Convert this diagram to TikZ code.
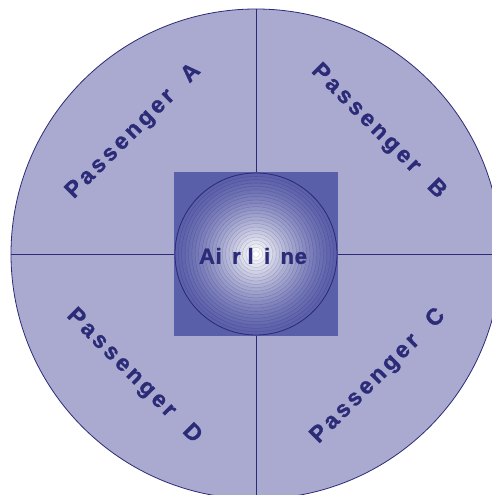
\documentclass[tikz,border=0pt]{standalone}
\usepackage{fontspec}
\setmainfont{Liberation Sans}
\usepackage{tikz}

\definecolor{cabinfill}{HTML}{AAA9D0}
\definecolor{hubfill}{HTML}{5A5FAA}
\definecolor{hubedge}{HTML}{5C60AC}
\definecolor{navyline}{HTML}{2B2B78}

\begin{document}
\begin{tikzpicture}[
  x=1pt, y=1pt,
  every node/.style={align=center},
  seatlabel/.style={font=\bfseries\fontsize{23}{27}\selectfont\addfontfeature{LetterSpace=15,FakeBold=1.2},
    text=navyline, inner sep=0pt},
  hublabel/.style={font=\bfseries\fontsize{22}{26}\selectfont\addfontfeature{LetterSpace=3,FakeBold=1.2},
    text=navyline, inner sep=0pt},
  divider/.style={draw=navyline, line width=0.8pt},
]
\useasboundingbox (-256,-241) rectangle (235,254);
\def\R{245}
\def\hubr{81}
% seating ring and quarters
\node[circle, minimum size=2*\R, inner sep=0pt, fill=cabinfill, divider] (cabin) at (0,0) {};
\draw[divider] (cabin.north) -- (cabin.south);
\draw[divider] (cabin.west) -- (cabin.east);
% hub
\node[rectangle, minimum size=163, inner sep=0pt, fill=hubfill] (hub) at (0,0) {};
\foreach \i in {0,...,23} {
  \pgfmathsetmacro\rr{\hubr*(1-\i/24)}
  \pgfmathsetmacro\pw{100*(\i/23)^1.4}
  \fill[white!\pw!hubedge, draw=black, draw opacity=0.2, line width=0.3pt] (hub.center) circle (\rr);
}
\draw[divider] (hub.center) circle (\hubr);
\node[hublabel] (airline) at (-3,-2) {Ai\ \,r\ l\ \,i\ \,ne};
% passengers
\foreach \n/\ang/\rot in {A/135/45, B/45/-45, C/-45/45, D/-135/-45} {
  \node[seatlabel, rotate=\rot] (seat\n) at (\ang:173) {Passenger\ \ \n};
}
\end{tikzpicture}
\end{document}
